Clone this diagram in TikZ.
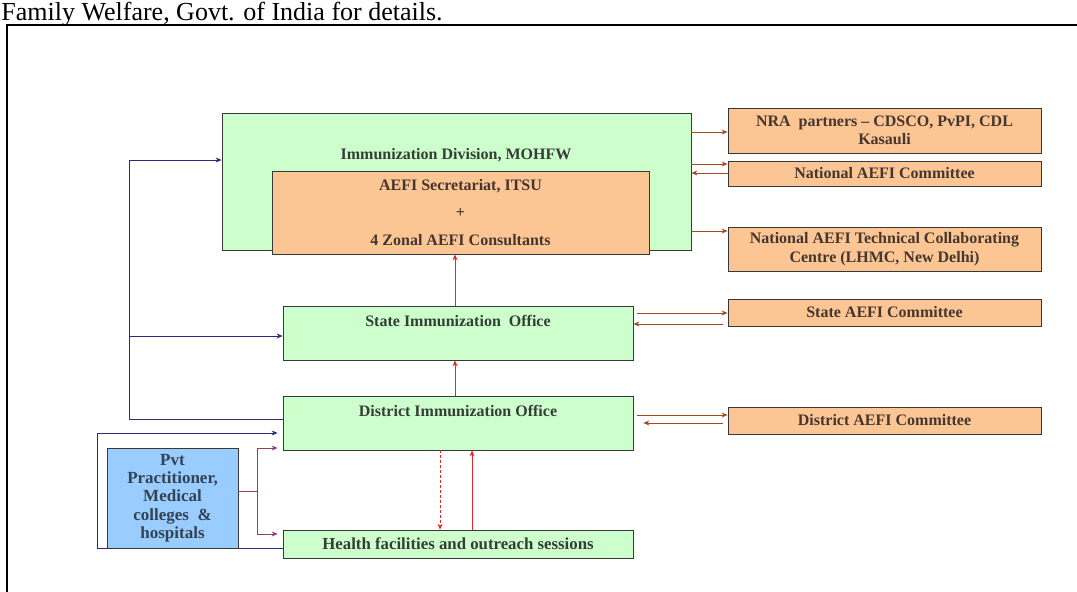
\documentclass[tikz,border=0pt]{standalone}
\usepackage{fontspec}
\setmainfont{Liberation Serif}
\usetikzlibrary{arrows.meta}

\definecolor{boxgreen}{HTML}{CCFFCC}
\definecolor{boxpeach}{HTML}{FBC694}
\definecolor{boxblue}{HTML}{99CCFF}
\definecolor{txtgreen}{HTML}{363C36}
\definecolor{txtpeach}{HTML}{46362F}
\definecolor{txtblue}{HTML}{344252}
\definecolor{linknavy}{HTML}{1C1C7A}
\definecolor{linkbrown}{HTML}{A04A1E}
\definecolor{linkred}{HTML}{E8262A}
\definecolor{linkpurple}{HTML}{9A3A6C}

\newcommand{\lblfont}{\fontsize{16}{18}\bfseries\selectfont}

\begin{document}
\begin{tikzpicture}[
    x = 1pt, y = -1pt, % pixel grid, y down
    > = {Stealth[length=6pt,width=5pt]}, % arrow head style
    line width = 0.9pt
    ]

    \tikzset{
    box/.style = {draw = black!78, line width = 0.8pt, inner sep = 0pt, align = center, font = \lblfont},
    greenbox/.style = {box, fill = boxgreen, text = txtgreen},
    peachbox/.style = {box, fill = boxpeach, text = txtpeach},
    bluebox/.style = {box, fill = boxblue, text = txtblue},
    lbl/.style = {inner sep = 0pt, anchor = base, font = \lblfont, text = txtgreen},
    navyarrow/.style = {draw = linknavy!85!gray, ->},
    brownarrow/.style = {draw = linkbrown, ->},
    redarrow/.style = {draw = linkred, ->},
    purplearrow/.style = {draw = linkpurple, ->}
    }

    \useasboundingbox (0,0) rectangle (1077,592);

    % page text and frame
    \node[inner sep = 0pt, anchor = base west, font = \fontsize{26}{30}\selectfont] (cap) at (1,20)
        {Family Welfare, Govt. of India for details.};
    \draw[line width = 2pt] (7,610) -- (7,25) -- (1090,25);

    % national level
    \node[greenbox, minimum width = 469pt, minimum height = 137pt] (mohfw) at (456.5,181.5) {};
    \node[lbl] (mohfwt) at (456,159) {Immunization Division, MOHFW};
    \node[peachbox, minimum width = 377pt, minimum height = 83pt, font = \fontsize{16}{27.5}\bfseries\selectfont] (itsu) at (460.5,212.5)
        {AEFI Secretariat, ITSU\\+\\4 Zonal AEFI Consultants};

    \node[peachbox, minimum width = 313pt, minimum height = 45pt] (nra) at (884.5,130.5)
        {NRA \ partners -- CDSCO, PvPI, CDL\\Kasauli};
    \node[peachbox, minimum width = 313pt, minimum height = 25pt] (nac) at (884.5,173.5) {National AEFI Committee};
    \node[peachbox, minimum width = 313pt, minimum height = 44pt, font = \fontsize{16}{19}\bfseries\selectfont] (ntc) at (884.5,249)
        {National AEFI Technical Collaborating\\Centre (LHMC, New Delhi)};

    % state and district level
    \node[greenbox, minimum width = 350pt, minimum height = 54pt] (sio) at (458,333) {};
    \node[lbl] (siot) at (458,326) {State Immunization \ Office};
    \node[peachbox, minimum width = 313pt, minimum height = 27pt] (sac) at (884.5,312.5) {State AEFI Committee};

    \node[greenbox, minimum width = 350pt, minimum height = 54pt] (dio) at (458,423) {};
    \node[lbl] (diot) at (458,416) {District Immunization Office};
    \node[peachbox, minimum width = 313pt, minimum height = 27pt] (dac) at (884.5,420.5) {District AEFI Committee};

    \node[greenbox, minimum width = 350pt, minimum height = 28pt, font = \fontsize{16.8}{18}\bfseries\selectfont] (hfo) at (458,544)
        {Health facilities and outreach sessions};

    % navy feedback lines
    \draw[navyarrow] (dio.west |- 0,419) -- ++(-153,0) |- (mohfw.west |- 0,160);
    \coordinate (bend) at (130,336);
    \draw[navyarrow] (bend) -- (sio.west |- bend);
    \draw[navyarrow, shorten > = 5pt] (hfo.west |- 0,548) -| (97,433) -- (dio.west |- 0,433);

    \node[bluebox, minimum width = 131pt, minimum height = 100pt, font = \fontsize{17}{18.3}\bfseries\selectfont] (pvt) at (172.5,498)
        {Pvt\\Practitioner,\\Medical\\colleges \ \&\\hospitals};

    % private sector
    \coordinate (fork) at (257,491);
    \draw[draw = linkpurple] (pvt.east |- fork) -- (fork);
    \draw[purplearrow, shorten > = 5pt] (fork) |- (dio.west |- 0,448);
    \draw[purplearrow, shorten > = 5pt] (fork) |- (hfo.west |- 0,534);

    % reporting upwards
    \draw[redarrow] (dio.north -| 455,0) -- (sio.south -| 455,0);
    \draw[redarrow] (sio.north -| 455,0) -- (itsu.south -| 455,0);
    \draw[redarrow, dashed, dash pattern = on 3pt off 2pt] (dio.south -| 440,0) -- (hfo.north -| 440,0);
    \draw[redarrow] (hfo.north -| 472,0) -- (dio.south -| 472,0);

    % committees and partners
    \draw[brownarrow] (mohfw.east |- 0,132) -- (nra.west |- 0,132);
    \draw[brownarrow] (mohfw.east |- 0,164) -- (nac.west |- 0,164);
    \draw[brownarrow] (nac.west |- 0,173) -- (mohfw.east |- 0,173);
    \draw[brownarrow] (mohfw.east |- 0,231) -- (ntc.west |- 0,231);
    \draw[brownarrow, shorten < = 4pt] (sio.east |- 0,313) -- (sac.west |- 0,313);
    \draw[brownarrow, shorten < = 5pt] (sac.west |- 0,324) -- (sio.east |- 0,324);
    \draw[brownarrow, shorten < = 4pt] (dio.east |- 0,415) -- (dac.west |- 0,415);
    \draw[brownarrow, shorten < = 5pt, shorten > = 10pt] (dac.west |- 0,423) -- (dio.east |- 0,423);

\end{tikzpicture}
\end{document}
